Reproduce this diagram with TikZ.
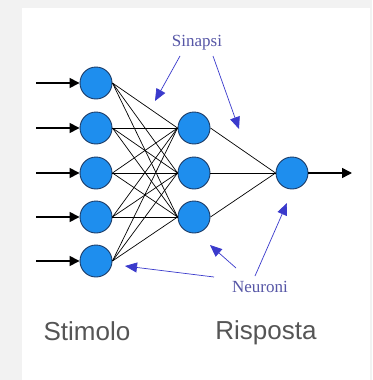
\documentclass[tikz,border=0pt]{standalone}
\usepackage{fontspec}
\setmainfont{Liberation Serif}
\newfontfamily\labelfont{Liberation Sans}
\usetikzlibrary{arrows.meta}
\definecolor{neurblue}{HTML}{1E8EEE}
\definecolor{neuredge}{HTML}{1C3C68}
\definecolor{notecol}{HTML}{5656A6}
\definecolor{notearrow}{HTML}{3A3ACC}
\definecolor{capgray}{HTML}{555555}
\definecolor{pagegray}{HTML}{F2F2F2}
\tikzset{
  neuron/.style={circle,draw=neuredge,line width=0.9pt,fill=neurblue,minimum size=32pt,inner sep=0pt},
  note/.style={text=notecol,font=\fontsize{17}{17}\selectfont},
  notearr/.style={draw=notearrow,line width=0.7pt,-{Triangle[length=12pt,width=10pt]}},
  signal/.style={line width=1.5pt,-{Triangle[length=10pt,width=10pt]}},
  caption/.style={text=capgray,font=\labelfont\fontsize{26}{26}\selectfont}
}
\begin{document}
\begin{tikzpicture}[x=1pt,y=-1pt]
	\useasboundingbox (0,0) rectangle (372,380);
	\fill[pagegray] (0,0) rectangle (372,380);
	\fill[white] (22,8) rectangle (370,380);
	% neuroni
	\foreach \k/\y in {1/83,2/128,3/173,4/217,5/261}
		\node[neuron] (i\k) at (96,\y) {};
	\foreach \k/\y in {1/128,2/173,3/217}
		\node[neuron] (h\k) at (194,\y) {};
	\node[neuron] (o) at (292,173) {};
	% sinapsi
	\foreach \a in {1,...,5}
		\foreach \b in {1,2,3}
			\draw[line width=0.7pt] (i\a.east) -- (h\b.west);
	\foreach \b in {1,2,3}
		\draw[line width=0.7pt] (h\b.east) -- (o.west);
	% stimolo in ingresso / risposta in uscita
	\foreach \k/\y in {1/83,2/128,3/173,4/217,5/261}{
		\coordinate (in\k) at (36,\y);
		\draw[signal] (in\k) -- (i\k.west);
	}
	\coordinate (out) at (352,173);
	\draw[signal] (o.east) -- (out);
	% etichette
	\node[note] (sin) at (197,43) {Sinapsi};
	\coordinate (s1) at (155,101);
	\coordinate (s2) at (239,129);
	\draw[notearr] (180,56) -- (s1);
	\draw[notearr] (213,56) -- (s2);
	\node[note] (neu) at (260,287) {Neuroni};
	\coordinate (n1) at (125,266);
	\coordinate (n2) at (210,245);
	\coordinate (n3) at (287,203);
	\draw[notearr] (214,277) -- (n1);
	\draw[notearr] (236,268) -- (n2);
	\draw[notearr] (255,276) -- (n3);
	\node[caption] (stim) at (87,331) {Stimolo};
	\node[caption] (risp) at (266,333) {Risposta};
\end{tikzpicture}
\end{document}
